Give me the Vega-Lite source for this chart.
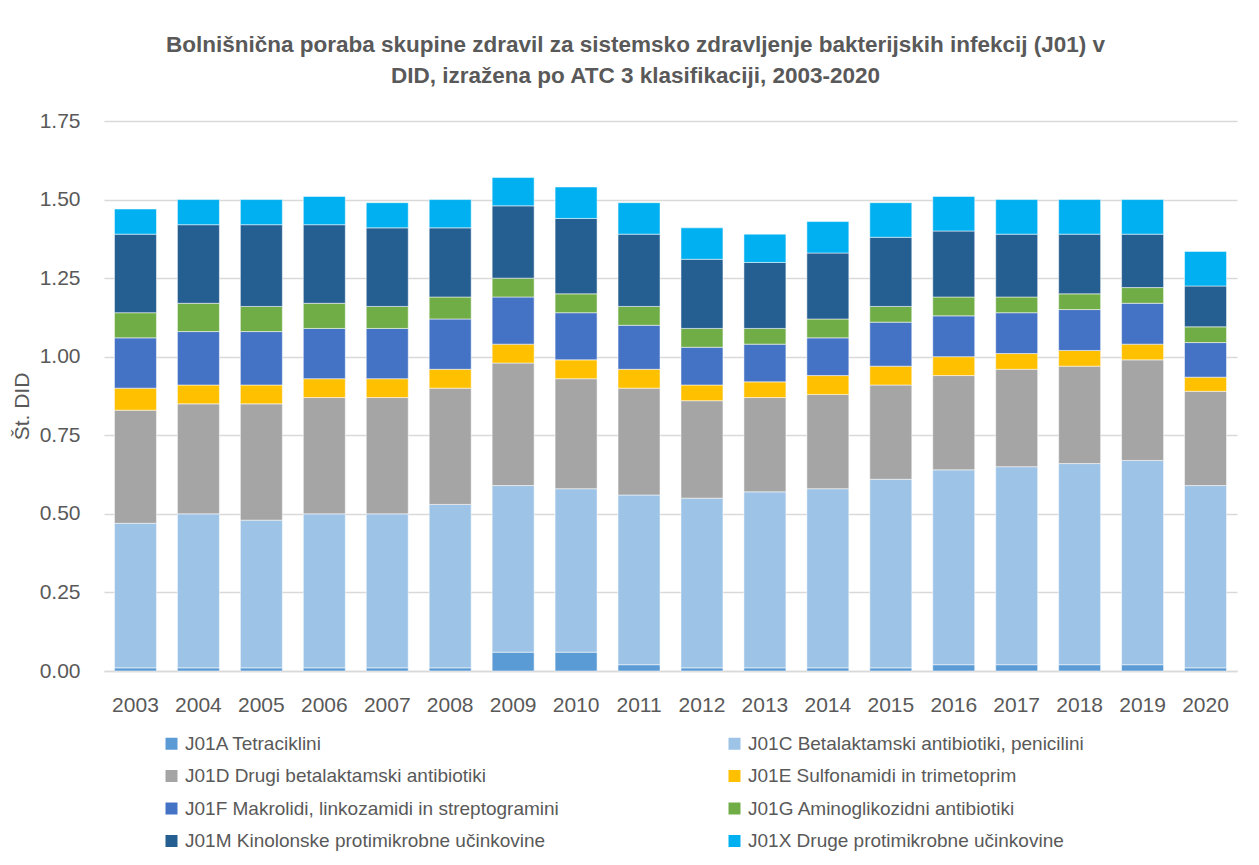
{
  "$schema": "https://vega.github.io/schema/vega-lite/v6.json",
  "autosize": {"type": "none"},
  "width": 1133,
  "height": 550,
  "padding": {"left": 104, "top": 121, "right": 22, "bottom": 194},
  "background": "white",
  "title": {
    "text": ["Bolnišnična poraba skupine zdravil za sistemsko zdravljenje bakterijskih infekcij (J01) v", "DID, izražena po ATC 3 klasifikaciji, 2003-2020"],
    "font": "Liberation Sans",
    "fontSize": 22.5,
    "fontWeight": "bold",
    "color": "#595959",
    "anchor": "middle",
    "dx": -35,
    "offset": 23,
    "lineHeight": 31
  },
  "data": {
    "values": [
      {"year": "2003", "J01A Tetraciklini": 0.01, "J01C Betalaktamski antibiotiki, penicilini": 0.46, "J01D Drugi betalaktamski antibiotiki": 0.36, "J01E Sulfonamidi in trimetoprim": 0.07, "J01F Makrolidi, linkozamidi in streptogramini": 0.16, "J01G Aminoglikozidni antibiotiki": 0.08, "J01M Kinolonske protimikrobne učinkovine": 0.25, "J01X Druge protimikrobne učinkovine": 0.08},
      {"year": "2004", "J01A Tetraciklini": 0.01, "J01C Betalaktamski antibiotiki, penicilini": 0.49, "J01D Drugi betalaktamski antibiotiki": 0.35, "J01E Sulfonamidi in trimetoprim": 0.06, "J01F Makrolidi, linkozamidi in streptogramini": 0.17, "J01G Aminoglikozidni antibiotiki": 0.09, "J01M Kinolonske protimikrobne učinkovine": 0.25, "J01X Druge protimikrobne učinkovine": 0.08},
      {"year": "2005", "J01A Tetraciklini": 0.01, "J01C Betalaktamski antibiotiki, penicilini": 0.47, "J01D Drugi betalaktamski antibiotiki": 0.37, "J01E Sulfonamidi in trimetoprim": 0.06, "J01F Makrolidi, linkozamidi in streptogramini": 0.17, "J01G Aminoglikozidni antibiotiki": 0.08, "J01M Kinolonske protimikrobne učinkovine": 0.26, "J01X Druge protimikrobne učinkovine": 0.08},
      {"year": "2006", "J01A Tetraciklini": 0.01, "J01C Betalaktamski antibiotiki, penicilini": 0.49, "J01D Drugi betalaktamski antibiotiki": 0.37, "J01E Sulfonamidi in trimetoprim": 0.06, "J01F Makrolidi, linkozamidi in streptogramini": 0.16, "J01G Aminoglikozidni antibiotiki": 0.08, "J01M Kinolonske protimikrobne učinkovine": 0.25, "J01X Druge protimikrobne učinkovine": 0.09},
      {"year": "2007", "J01A Tetraciklini": 0.01, "J01C Betalaktamski antibiotiki, penicilini": 0.49, "J01D Drugi betalaktamski antibiotiki": 0.37, "J01E Sulfonamidi in trimetoprim": 0.06, "J01F Makrolidi, linkozamidi in streptogramini": 0.16, "J01G Aminoglikozidni antibiotiki": 0.07, "J01M Kinolonske protimikrobne učinkovine": 0.25, "J01X Druge protimikrobne učinkovine": 0.08},
      {"year": "2008", "J01A Tetraciklini": 0.01, "J01C Betalaktamski antibiotiki, penicilini": 0.52, "J01D Drugi betalaktamski antibiotiki": 0.37, "J01E Sulfonamidi in trimetoprim": 0.06, "J01F Makrolidi, linkozamidi in streptogramini": 0.16, "J01G Aminoglikozidni antibiotiki": 0.07, "J01M Kinolonske protimikrobne učinkovine": 0.22, "J01X Druge protimikrobne učinkovine": 0.09},
      {"year": "2009", "J01A Tetraciklini": 0.06, "J01C Betalaktamski antibiotiki, penicilini": 0.53, "J01D Drugi betalaktamski antibiotiki": 0.39, "J01E Sulfonamidi in trimetoprim": 0.06, "J01F Makrolidi, linkozamidi in streptogramini": 0.15, "J01G Aminoglikozidni antibiotiki": 0.06, "J01M Kinolonske protimikrobne učinkovine": 0.23, "J01X Druge protimikrobne učinkovine": 0.09},
      {"year": "2010", "J01A Tetraciklini": 0.06, "J01C Betalaktamski antibiotiki, penicilini": 0.52, "J01D Drugi betalaktamski antibiotiki": 0.35, "J01E Sulfonamidi in trimetoprim": 0.06, "J01F Makrolidi, linkozamidi in streptogramini": 0.15, "J01G Aminoglikozidni antibiotiki": 0.06, "J01M Kinolonske protimikrobne učinkovine": 0.24, "J01X Druge protimikrobne učinkovine": 0.10},
      {"year": "2011", "J01A Tetraciklini": 0.02, "J01C Betalaktamski antibiotiki, penicilini": 0.54, "J01D Drugi betalaktamski antibiotiki": 0.34, "J01E Sulfonamidi in trimetoprim": 0.06, "J01F Makrolidi, linkozamidi in streptogramini": 0.14, "J01G Aminoglikozidni antibiotiki": 0.06, "J01M Kinolonske protimikrobne učinkovine": 0.23, "J01X Druge protimikrobne učinkovine": 0.10},
      {"year": "2012", "J01A Tetraciklini": 0.01, "J01C Betalaktamski antibiotiki, penicilini": 0.54, "J01D Drugi betalaktamski antibiotiki": 0.31, "J01E Sulfonamidi in trimetoprim": 0.05, "J01F Makrolidi, linkozamidi in streptogramini": 0.12, "J01G Aminoglikozidni antibiotiki": 0.06, "J01M Kinolonske protimikrobne učinkovine": 0.22, "J01X Druge protimikrobne učinkovine": 0.10},
      {"year": "2013", "J01A Tetraciklini": 0.01, "J01C Betalaktamski antibiotiki, penicilini": 0.56, "J01D Drugi betalaktamski antibiotiki": 0.30, "J01E Sulfonamidi in trimetoprim": 0.05, "J01F Makrolidi, linkozamidi in streptogramini": 0.12, "J01G Aminoglikozidni antibiotiki": 0.05, "J01M Kinolonske protimikrobne učinkovine": 0.21, "J01X Druge protimikrobne učinkovine": 0.09},
      {"year": "2014", "J01A Tetraciklini": 0.01, "J01C Betalaktamski antibiotiki, penicilini": 0.57, "J01D Drugi betalaktamski antibiotiki": 0.30, "J01E Sulfonamidi in trimetoprim": 0.06, "J01F Makrolidi, linkozamidi in streptogramini": 0.12, "J01G Aminoglikozidni antibiotiki": 0.06, "J01M Kinolonske protimikrobne učinkovine": 0.21, "J01X Druge protimikrobne učinkovine": 0.10},
      {"year": "2015", "J01A Tetraciklini": 0.01, "J01C Betalaktamski antibiotiki, penicilini": 0.60, "J01D Drugi betalaktamski antibiotiki": 0.30, "J01E Sulfonamidi in trimetoprim": 0.06, "J01F Makrolidi, linkozamidi in streptogramini": 0.14, "J01G Aminoglikozidni antibiotiki": 0.05, "J01M Kinolonske protimikrobne učinkovine": 0.22, "J01X Druge protimikrobne učinkovine": 0.11},
      {"year": "2016", "J01A Tetraciklini": 0.02, "J01C Betalaktamski antibiotiki, penicilini": 0.62, "J01D Drugi betalaktamski antibiotiki": 0.30, "J01E Sulfonamidi in trimetoprim": 0.06, "J01F Makrolidi, linkozamidi in streptogramini": 0.13, "J01G Aminoglikozidni antibiotiki": 0.06, "J01M Kinolonske protimikrobne učinkovine": 0.21, "J01X Druge protimikrobne učinkovine": 0.11},
      {"year": "2017", "J01A Tetraciklini": 0.02, "J01C Betalaktamski antibiotiki, penicilini": 0.63, "J01D Drugi betalaktamski antibiotiki": 0.31, "J01E Sulfonamidi in trimetoprim": 0.05, "J01F Makrolidi, linkozamidi in streptogramini": 0.13, "J01G Aminoglikozidni antibiotiki": 0.05, "J01M Kinolonske protimikrobne učinkovine": 0.20, "J01X Druge protimikrobne učinkovine": 0.11},
      {"year": "2018", "J01A Tetraciklini": 0.02, "J01C Betalaktamski antibiotiki, penicilini": 0.64, "J01D Drugi betalaktamski antibiotiki": 0.31, "J01E Sulfonamidi in trimetoprim": 0.05, "J01F Makrolidi, linkozamidi in streptogramini": 0.13, "J01G Aminoglikozidni antibiotiki": 0.05, "J01M Kinolonske protimikrobne učinkovine": 0.19, "J01X Druge protimikrobne učinkovine": 0.11},
      {"year": "2019", "J01A Tetraciklini": 0.02, "J01C Betalaktamski antibiotiki, penicilini": 0.65, "J01D Drugi betalaktamski antibiotiki": 0.32, "J01E Sulfonamidi in trimetoprim": 0.05, "J01F Makrolidi, linkozamidi in streptogramini": 0.13, "J01G Aminoglikozidni antibiotiki": 0.05, "J01M Kinolonske protimikrobne učinkovine": 0.17, "J01X Druge protimikrobne učinkovine": 0.11},
      {"year": "2020", "J01A Tetraciklini": 0.01, "J01C Betalaktamski antibiotiki, penicilini": 0.58, "J01D Drugi betalaktamski antibiotiki": 0.30, "J01E Sulfonamidi in trimetoprim": 0.045, "J01F Makrolidi, linkozamidi in streptogramini": 0.11, "J01G Aminoglikozidni antibiotiki": 0.05, "J01M Kinolonske protimikrobne učinkovine": 0.13, "J01X Druge protimikrobne učinkovine": 0.11}
    ]
  },
  "transform": [
    {"fold": ["J01A Tetraciklini", "J01C Betalaktamski antibiotiki, penicilini", "J01D Drugi betalaktamski antibiotiki", "J01E Sulfonamidi in trimetoprim", "J01F Makrolidi, linkozamidi in streptogramini", "J01G Aminoglikozidni antibiotiki", "J01M Kinolonske protimikrobne učinkovine", "J01X Druge protimikrobne učinkovine"], "as": ["series", "value"]}
  ],
  "mark": {"type": "bar", "stroke": "#ffffff", "strokeWidth": 1, "strokeOpacity": 0.5},
  "encoding": {
    "x": {
      "field": "year",
      "type": "ordinal",
      "scale": {"paddingInner": 0.333, "paddingOuter": 0.1665},
      "axis": {
        "title": null,
        "labelAngle": 0,
        "labelFont": "Liberation Sans",
        "labelFontSize": 21,
        "labelColor": "#595959",
        "labelPadding": 23,
        "ticks": false,
        "domainColor": "#D9D9D9",
        "domainWidth": 1.5,
        "grid": false
      }
    },
    "y": {
      "field": "value",
      "type": "quantitative",
      "stack": "zero",
      "scale": {"domain": [0, 1.75], "nice": false},
      "axis": {
        "title": "Št. DID",
        "titleFont": "Liberation Sans",
        "titleFontSize": 21,
        "titleFontWeight": "normal",
        "titleColor": "#595959",
        "titleX": -72,
        "titleY": 285,
        "titleAlign": "center",
        "values": [0, 0.25, 0.5, 0.75, 1, 1.25, 1.5, 1.75],
        "format": ".2f",
        "labelFont": "Liberation Sans",
        "labelFontSize": 21,
        "labelColor": "#595959",
        "labelPadding": 24,
        "ticks": false,
        "domain": false,
        "gridColor": "#D9D9D9",
        "gridWidth": 1.5
      }
    },
    "color": {
      "field": "series",
      "type": "nominal",
      "scale": {
        "domain": ["J01A Tetraciklini", "J01C Betalaktamski antibiotiki, penicilini", "J01D Drugi betalaktamski antibiotiki", "J01E Sulfonamidi in trimetoprim", "J01F Makrolidi, linkozamidi in streptogramini", "J01G Aminoglikozidni antibiotiki", "J01M Kinolonske protimikrobne učinkovine", "J01X Druge protimikrobne učinkovine"],
        "range": ["#5B9BD5", "#9DC3E6", "#A5A5A5", "#FFC000", "#4472C4", "#70AD47", "#255E91", "#00B0F0"]
      },
      "legend": {
        "title": null,
        "orient": "none",
        "legendX": 58,
        "legendY": 613,
        "direction": "horizontal",
        "columns": 2,
        "columnPadding": 166,
        "rowPadding": 12.5,
        "symbolType": "square",
        "symbolSize": 144,
        "symbolStrokeWidth": 0,
        "labelFont": "Liberation Sans",
        "labelFontSize": 19,
        "labelColor": "#595959",
        "labelOffset": 4,
        "labelLimit": 600
      }
    },
    "order": {"field": "series", "sort": "ascending"}
  },
  "config": {"view": {"stroke": null}}
}
